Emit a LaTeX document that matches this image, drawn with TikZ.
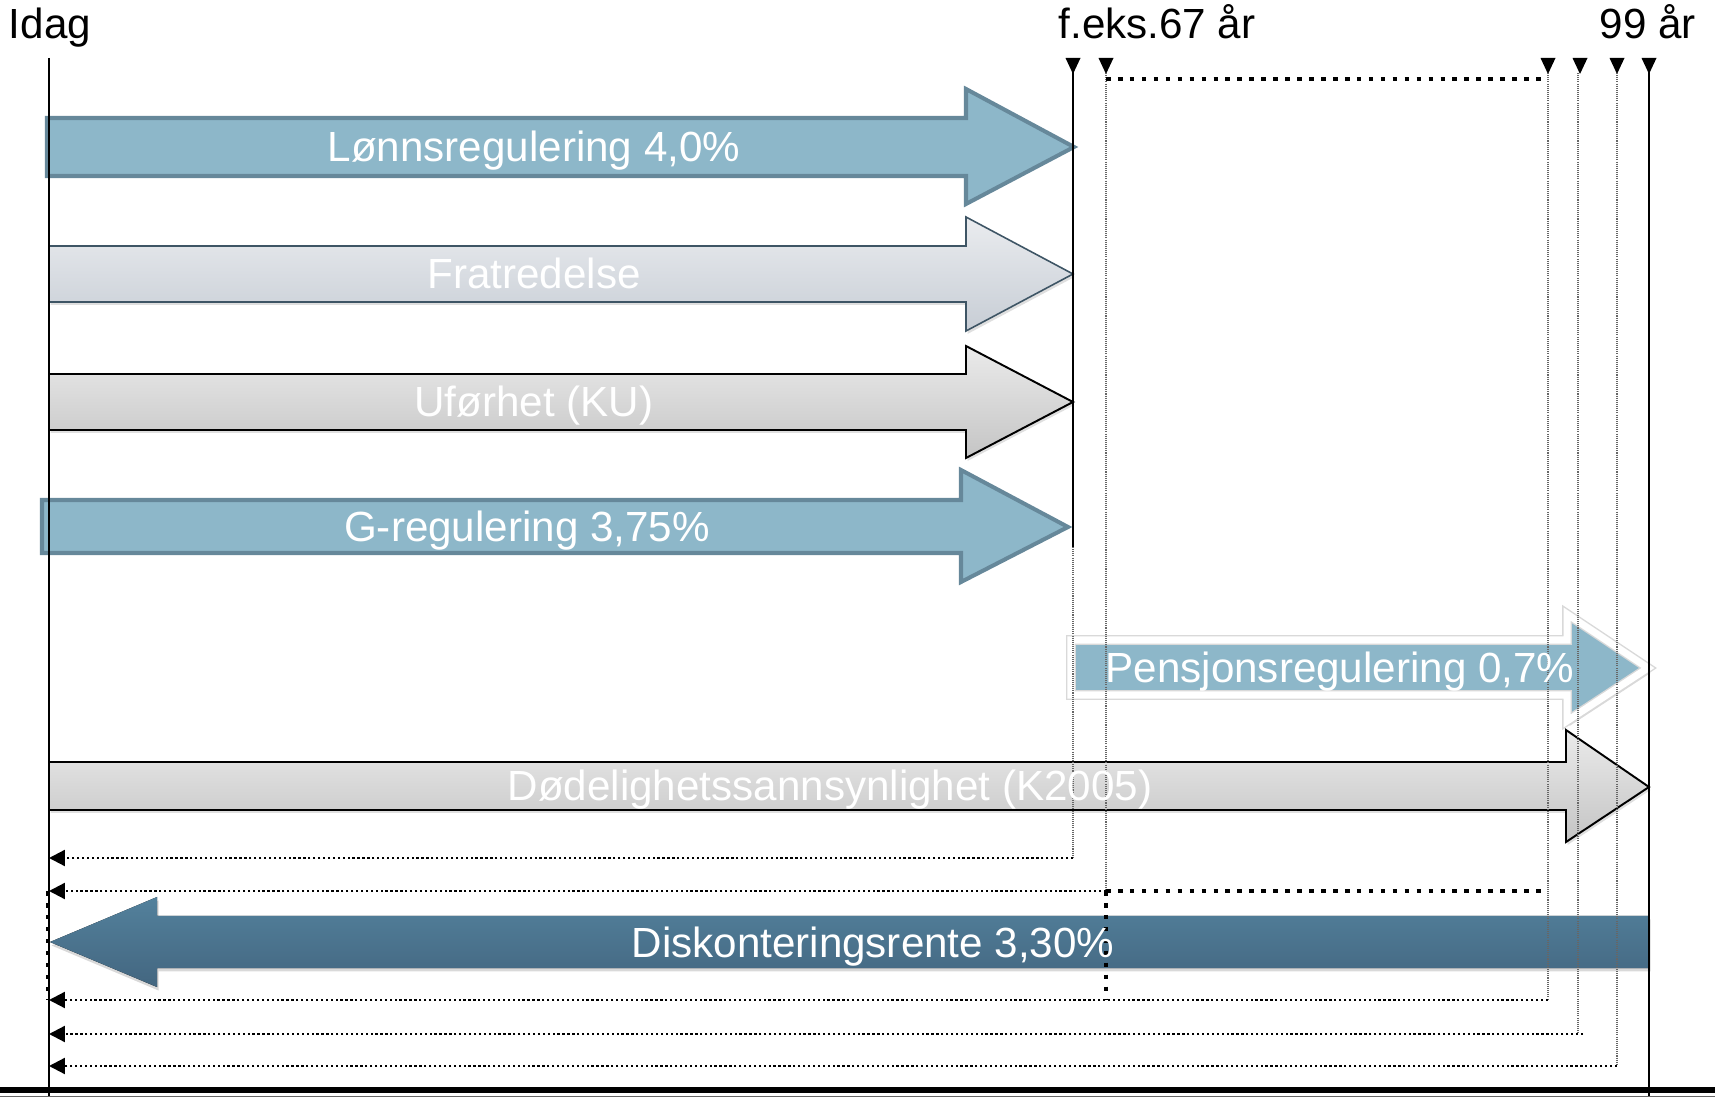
\documentclass[tikz,border=0pt]{standalone}
\usepackage{fontspec}
\setmainfont{Liberation Sans}
\usetikzlibrary{arrows.meta,shadows}

\definecolor{arrowblue}{HTML}{8DB7C9}
\definecolor{arrowedge}{HTML}{66889A}
\definecolor{slateedge}{HTML}{3E5565}
\definecolor{paleT}{HTML}{EAECEF}
\definecolor{paleB}{HTML}{C7CDD5}
\definecolor{darkblueT}{HTML}{53819C}
\definecolor{darkblueB}{HTML}{436680}

\tikzset{
  lbl/.style={anchor=base,font=\fontsize{24}{28}\selectfont},
  inlbl/.style={lbl,text=white},
  axis/.style={line width=1.1pt},
  bluearrow/.style={fill=arrowblue,draw=arrowedge,line width=2.3pt,line join=miter},
  palearrow/.style={top color=paleT,bottom color=paleB,
    draw=slateedge,line width=0.9pt,drop shadow={opacity=0.25,shadow xshift=0.03cm,shadow yshift=-0.06cm}},
  greyarrow/.style={top color=black!8,bottom color=black!23,draw=black,line width=1.1pt,
    drop shadow={opacity=0.25,shadow xshift=0.03cm,shadow yshift=-0.06cm}},
  vdot/.style={black!60,line width=0.7pt,dash pattern=on 0.6pt off 0.6pt},
  hdot/.style={line width=1.3pt,dash pattern=on 1.3pt off 1.5pt,-{Triangle[length=0.32cm,width=0.32cm]}},
  sqdot/.style={line width=2.6pt,dash pattern=on 2.6pt off 4.2pt}
}

\begin{document}
\begin{tikzpicture}[x=0.02cm,y=-0.02cm]
  \useasboundingbox (0,0) rectangle (1715,1097);

  % block arrows
  \filldraw[bluearrow] (47,118) -- (966,118) -- (966,89) -- (1074,147) -- (966,204) -- (966,176) -- (47,176) -- cycle;
  \filldraw[palearrow] (49,246) -- (966,246) -- (966,217) -- (1073,274) -- (966,331) -- (966,302) -- (49,302) -- cycle;
  \filldraw[greyarrow] (49,374) -- (966,374) -- (966,346) -- (1073,402) -- (966,458) -- (966,430) -- (49,430) -- cycle;
  \filldraw[bluearrow] (42,500) -- (961,500) -- (961,470) -- (1068,527) -- (961,582) -- (961,553) -- (42,553) -- cycle;
  \filldraw[fill=arrowblue,draw=black!15,line width=5.6pt,line join=miter,
    drop shadow={opacity=0.3,shadow xshift=0.05cm,shadow yshift=-0.1cm}]
    (1071,640) -- (1567,640) -- (1567,614) -- (1648,668) -- (1567,721) -- (1567,695) -- (1071,695) -- cycle;
  \draw[white,line width=4pt,line join=miter]
    (1071,640) -- (1567,640) -- (1567,614) -- (1648,668) -- (1567,721) -- (1567,695) -- (1071,695) -- cycle;
  \filldraw[greyarrow] (49,762) -- (1566,762) -- (1566,730) -- (1649,787) -- (1566,842) -- (1566,810) -- (49,810) -- cycle;
  \fill[top color=darkblueT,bottom color=darkblueB,
    drop shadow={opacity=0.3,shadow xshift=0.03cm,shadow yshift=-0.07cm}]
    (1649,916) -- (157,916) -- (157,897) -- (50,942) -- (157,987) -- (157,968) -- (1649,968) -- cycle;

  % time axis
  \coordinate (idag) at (49,58);
  \coordinate (idagend) at (49,1097);
  \coordinate (r67) at (1073,58);
  \coordinate (r67end) at (1073,547);
  \coordinate (r99) at (1649,58);
  \coordinate (r99end) at (1649,1097);
  \draw[axis] (idag) -- (idagend);
  \draw[axis] (r67) -- (r67end);
  \draw[axis] (r99) -- (r99end);
  \foreach \x in {1073,1106,1548,1580,1617,1649}
    \fill (\x-7.5,58) -- ++(15,0) -- ++(-7.5,16) -- cycle;

  % payment periods
  \coordinate (v2) at (1106,73);
  \coordinate (v3) at (1548,73);
  \coordinate (v4) at (1578,73);
  \coordinate (v5) at (1617,73);
  \coordinate (c1) at (1073,858);
  \coordinate (c2) at (1106,891);
  \coordinate (c3) at (1548,1000);
  \coordinate (c4) at (1578,1034);
  \coordinate (c5) at (1617,1066);
  \draw[vdot] (r67end) -- (c1);
  \draw[vdot] (v2) -- (c2);
  \draw[vdot] (v3) -- (c3);
  \draw[vdot] (v4) -- (c4);
  \draw[vdot] (v5) -- (c5);
  \draw[hdot] (c1) -- (49,858);
  \draw[hdot] (c2) -- (49,891);
  \draw[hdot] (c3) -- (49,1000);
  \draw[hdot] (1583,1034) -- (49,1034);
  \draw[hdot] (c5) -- (49,1066);

  % pension span
  \coordinate (p1) at (1106,79);
  \coordinate (p2) at (1543,79);
  \coordinate (p3) at (1543,891);
  \coordinate (p4) at (1106,1000);
  \coordinate (p5) at (48,891);
  \coordinate (p6) at (48,1000);
  \draw[sqdot] (p1) -- (p2);
  \draw[sqdot] (c2) -- (p3);
  \draw[sqdot] (c2) -- (p4);
  \draw[sqdot] (p5) -- (p6);

  % frame
  \coordinate (bl) at (0,1090);
  \coordinate (br) at (1715,1090);
  \draw[line width=3.4pt] (bl) -- (br);
  \draw[black!60,line width=0.6pt] (0,1096.5) -- (1715,1096.5);

  % labels
  \node[lbl] (tidag) at (50,39) {Idag};
  \node[lbl] (t67) at (1157,39) {f.eks.67 år};
  \node[lbl] (t99) at (1648,39) {99 år};
  \node[inlbl] (lonn) at (534,162) {Lønnsregulering 4,0\%};
  \node[inlbl] (fratr) at (534,289) {Fratredelse};
  \node[inlbl] (ufor) at (534,417) {Uførhet (KU)};
  \node[inlbl] (greg) at (527,542) {G-regulering 3,75\%};
  \node[inlbl] (pens) at (1340,683) {Pensjonsregulering 0,7\%};
  \node[inlbl] (dod) at (830,801) {Dødelighetssannsynlighet (K2005)};
  \node[inlbl] (disk) at (873,957) {Diskonteringsrente 3,30\%};
\end{tikzpicture}
\end{document}
